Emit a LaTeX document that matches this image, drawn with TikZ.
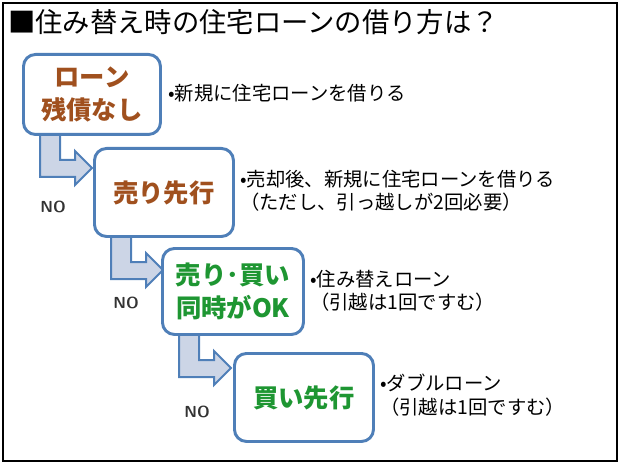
\documentclass[tikz,border=0pt]{standalone}
\usepackage{fontspec}
\setmainfont{Noto Sans CJK JP}
\definecolor{bord}{HTML}{4F7FB8}
\definecolor{afill}{HTML}{CCD5E6}
\definecolor{brn}{HTML}{A0501E}
\definecolor{grn}{HTML}{1E9632}
\begin{document}
\begin{tikzpicture}[x=0.75pt,y=-0.75pt,
  box/.style={draw=bord,line width=2.2pt,rounded corners=9pt,fill=white,inner sep=0pt},
  btxt/.style={font=\fontsize{19}{25}\selectfont\bfseries,align=center},
  desc/.style={anchor=west,font=\fontsize{14.5}{17.5}\selectfont,align=left,inner sep=0pt},
  no/.style={font=\fontsize{12}{12}\selectfont\sffamily\bfseries,inner sep=0pt,text=black!80}]
\useasboundingbox (0,0) rectangle (620,463);
\draw[line width=1.2pt] (3,3) rectangle (617,461);
\node[anchor=west,inner sep=0pt,font=\fontsize{20.5}{24}\selectfont] (title) at (8,22) {■住み替え時の住宅ローンの借り方は？};
\def\arr#1#2{\draw[bord,line width=1.5pt,fill=afill,line join=miter]
  (#1+18,#2) -- (#1+38,#2) -- (#1+38,#2+27) -- (#1+53,#2+27) -- (#1+53,#2+18) -- (#1+70,#2+35) -- (#1+53,#2+52) -- (#1+53,#2+44) -- (#1+18,#2+44) -- cycle;}
\arr{22}{133}
\arr{93}{235}
\arr{161}{333}
\node[box,minimum width=137pt*0.75,minimum height=80pt*0.75,anchor=north west] (b1) at (22,53) {};
\node[btxt,text=brn] at (b1.center) {ローン\\残債なし};
\node[box,minimum width=139pt*0.75,minimum height=88pt*0.75,anchor=north west] (b2) at (93,147) {};
\node[btxt,text=brn] at (b2.center) {売り先行};
\node[box,minimum width=141pt*0.75,minimum height=86pt*0.75,anchor=north west] (b3) at (161,247) {};
\node[btxt,text=grn] at (b3.center) {売り･買い\\同時がOK};
\node[box,minimum width=139pt*0.75,minimum height=88pt*0.75,anchor=north west] (b4) at (233,352) {};
\node[btxt,text=grn] at (b4.center) {買い先行};
\node[no] (n1) at (53,207) {NO};
\node[no] (n2) at (126,303) {NO};
\node[no] (n3) at (197,412) {NO};
\node[desc] (d1) at (168,93) {•新規に住宅ローンを借りる};
\node[desc] (d2) at (240,191) {•売却後、新規に住宅ローンを借りる\\（ただし、引っ越しが2回必要）};
\node[desc] (d3) at (310,291) {•住み替えローン\\（引越は1回ですむ）};
\node[desc] (d4) at (380,395) {•ダブルローン\\（引越は1回ですむ）};
\end{tikzpicture}
\end{document}
